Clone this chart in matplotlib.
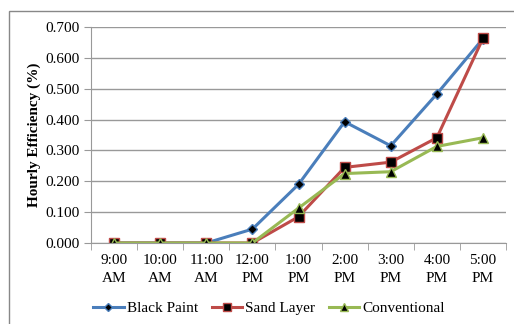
import matplotlib.pyplot as plt
import numpy as np
from matplotlib.patches import Rectangle

hours = ['9:00\nAM', '10:00\nAM', '11:00\nAM', '12:00\nPM', '1:00\nPM',
         '2:00\nPM', '3:00\nPM', '4:00\nPM', '5:00\nPM']
black_paint = [0.0, 0.0, 0.0, 0.045, 0.190, 0.393, 0.315, 0.483, 0.662]
sand_layer = [0.0, 0.0, 0.0, 0.0, 0.085, 0.245, 0.262, 0.341, 0.663]
conventional = [0.0, 0.0, 0.0, 0.0, 0.113, 0.225, 0.231, 0.313, 0.341]

plt.rcParams['font.family'] = ['Liberation Serif', 'DejaVu Serif']

fig = plt.figure(figsize=(5.14, 3.24), dpi=100)
ax = fig.add_axes([91 / 514, 1 - 243 / 324, 415 / 514, 216 / 324])

# outer chart frame
fig.patches.append(Rectangle((9 / 514, -0.1), 1.2, 1 - 11 / 324 + 0.1,
                             transform=fig.transFigure, fill=False,
                             edgecolor='#888888', linewidth=1.0))

x = np.arange(len(hours))
ax.plot(x, black_paint, color='#4a7ebb', lw=2.2, marker='D', ms=5,
        mfc='black', mec='#4a7ebb', label='Black Paint')
ax.plot(x, sand_layer, color='#be4b48', lw=2.2, marker='s', ms=7,
        mfc='black', mec='#be4b48', label='Sand Layer')
ax.plot(x, conventional, color='#98b954', lw=2.2, marker='^', ms=7,
        mfc='black', mec='#98b954', label='Conventional')

ax.set_xlim(-0.5, len(hours) - 0.5)
ax.set_ylim(0, 0.7)
ax.set_yticks(np.arange(0, 0.71, 0.1))
ax.set_yticklabels(['%.3f' % v for v in np.arange(0, 0.71, 0.1)], fontsize=11)
ax.yaxis.grid(True, color='#999999', lw=1)
ax.set_axisbelow(True)

ax.set_xticks(x)
ax.set_xticklabels(hours, fontsize=11, linespacing=1.45)
ax.set_xticks(np.arange(-0.5, len(hours)), minor=True)
ax.tick_params(axis='x', which='major', length=0, pad=8)
ax.tick_params(axis='x', which='minor', length=5, color='#999999')
ax.tick_params(axis='y', length=5, color='#999999', pad=3)

for s in ['top', 'right']:
    ax.spines[s].set_visible(False)
for s in ['left', 'bottom']:
    ax.spines[s].set_color('#999999')

ax.set_ylabel('Hourly Efficiency (%)', fontsize=11, fontweight='bold', labelpad=3)

ax.legend(loc='center', bbox_to_anchor=(178 / 415, -65 / 216), ncol=3, frameon=False,
          fontsize=11, handlelength=2.0, columnspacing=0.9, handletextpad=0.2,
          markerscale=0.8, borderpad=0, borderaxespad=0)

fig.savefig('out.png', dpi=100)
